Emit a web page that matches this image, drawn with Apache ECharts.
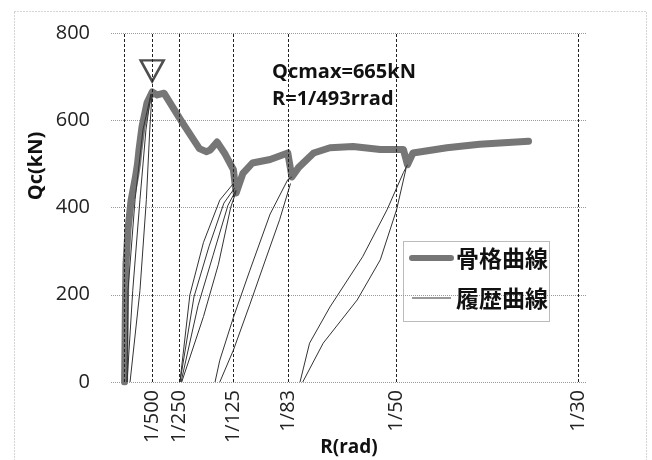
<!DOCTYPE html>
<html>
<head>
<meta charset="utf-8">
<script src="https://cdn.jsdelivr.net/npm/echarts@6/dist/echarts.min.js"></script>
<style>html,body{margin:0;padding:0;background:#fff}#c{width:652px;height:460px}</style>
</head>
<body>
<div id="c"></div>
<script>
// ---- data (R in rad, Qc in kN) ----
const tickValues = [1/500, 1/250, 1/125, 1/83, 1/50, 1/30];
const tickLabels = ['1/500', '1/250', '1/125', '1/83', '1/50', '1/30'];
const yTicks = [0, 200, 400, 600, 800];

const skeleton = [
  [0, 0], [0.00005, 150], [0.0001, 270], [0.00025, 350], [0.00047, 415],
  [0.0008, 470], [0.00095, 500], [0.00105, 530], [0.00128, 585], [0.00165, 640],
  [0.00203, 665], [0.0024, 658], [0.0029, 662], [0.0042, 597], [0.0055, 535],
  [0.006, 528], [0.0063, 532], [0.0068, 550], [0.0074, 522], [0.008, 487],
  [0.0082, 433], [0.0087, 478], [0.0094, 502], [0.0107, 510], [0.012, 525],
  [0.0123, 470], [0.0128, 492], [0.0139, 525], [0.0151, 537], [0.0168, 540],
  [0.0188, 533], [0.0205, 533], [0.0208, 498], [0.0212, 525], [0.0237, 537],
  [0.0261, 545], [0.0297, 552]
];

const hys500a = [[0.00018, 0], [0.00025, 210], [0.00077, 418], [0.00135, 578], [0.00194, 660]];
const hys500b = [[0.0004, 0], [0.00113, 210], [0.0016, 418], [0.00185, 578], [0.00201, 660]];
const hys500c = [[0.00018, 0], [0.0006, 210], [0.00113, 418], [0.00157, 578], [0.00194, 660]];

const hys250a = [[0.00407, 0], [0.0048, 200], [0.0058, 320], [0.007, 417], [0.008, 455]];
const hys250b = [[0.00407, 0], [0.0051, 195], [0.0062, 310], [0.0073, 410], [0.0081, 445]];
const hys250c = [[0.00415, 0], [0.0054, 175], [0.0065, 290], [0.0076, 405], [0.0082, 440]];
const hys250d = [[0.0042, 0], [0.0058, 150], [0.0069, 270], [0.0078, 400], [0.0082, 437]];

const hys125up = [[0.00665, 0], [0.007, 50], [0.008, 148], [0.0092, 255], [0.0107, 385], [0.012, 464], [0.0123, 470]];
const hys125dn = [[0.0122, 455], [0.0114, 372], [0.0103, 275], [0.0092, 177], [0.008, 73], [0.007, 0]];

const hys83up = [[0.0129, 0], [0.0136, 89], [0.0151, 172], [0.0175, 287], [0.0193, 395], [0.0205, 480], [0.0208, 498]];
const hys83dn = [[0.0207, 490], [0.02, 395], [0.0188, 280], [0.0171, 188], [0.0146, 89], [0.0131, 0]];

const peak = [[1/493, 665]];
const annotation = 'Qcmax=665kN\nR=1/493rrad';
const vLines = [0].concat(tickValues);

const hysList = [hys500a, hys500b, hys500c, hys250a, hys250b, hys250c, hys250d, hys125up, hys125dn, hys83up, hys83dn];

// ---- chart ----
const chart = echarts.init(document.getElementById('c'), null, {renderer: 'canvas'});
const FONT = 'Open Sans';
const SKEL = '#767676';
const HYS = '#333';

const series = [];
series.push({
  name: '骨格曲線', type: 'line', data: skeleton, symbol: 'none', z: 2,
  lineStyle: {color: SKEL, width: 7, join: 'round', cap: 'round'},
  itemStyle: {color: SKEL},
  markLine: {
    silent: true, symbol: 'none', animation: false, precision: 8,
    label: {show: false},
    lineStyle: {color: '#222', width: 1, type: [3, 2]},
    data: vLines.map(v => ({xAxis: v}))
  }
});
hysList.forEach(d => series.push({
  name: '履歴曲線', type: 'line', data: d, symbol: 'none', z: 3,
  lineStyle: {color: HYS, width: 1},
  itemStyle: {color: HYS}
}));
series.push({
  name: 'peak', type: 'scatter', data: peak, z: 4,
  symbol: 'triangle', symbolRotate: 180, symbolSize: [23, 21], symbolOffset: [0, -21],
  itemStyle: {color: 'rgba(0,0,0,0)', borderColor: '#222', borderWidth: 2.5}
});

chart.setOption({
  animation: false,
  backgroundColor: '#fff',
  title: {
    text: annotation, left: 272, top: 59, padding: 0,
    textStyle: {fontFamily: FONT, fontSize: 20, fontWeight: 'bold', color: '#111', lineHeight: 27}
  },
  grid: {left: 111, right: 65, top: 33, bottom: 78, containLabel: false, outerBoundsMode: 'none'},
  legend: {
    orient: 'vertical', left: 403, top: 241, padding: [5, 6, 12, 6], itemGap: 16,
    itemWidth: 39, itemHeight: 14,
    textStyle: {fontFamily: 'Noto Sans CJK JP', fontSize: 23, fontWeight: 'bold', color: '#111', lineHeight: 24},
    data: [
      {name: '骨格曲線', lineStyle: {width: 6, color: SKEL},
       itemStyle: {color: 'rgba(0,0,0,0)', borderWidth: 0, opacity: 0}},
      {name: '履歴曲線', lineStyle: {width: 1, color: HYS},
       itemStyle: {color: 'rgba(0,0,0,0)', borderWidth: 0, opacity: 0}}
    ]
  },
  xAxis: {
    type: 'value', min: -0.001, max: 0.034,
    name: 'R(rad)', nameLocation: 'middle', nameGap: 56, nameMoveOverlap: false,
    nameTextStyle: {fontFamily: FONT, fontSize: 19, fontWeight: 'bold', color: '#111'},
    axisLine: {show: false}, axisTick: {show: false}, splitLine: {show: false},
    axisLabel: {
      customValues: tickValues, rotate: 90, margin: 8,
      fontFamily: FONT, fontSize: 20, color: '#222',
      formatter: v => {
        const i = tickValues.findIndex(t => Math.abs(t - v) < 1e-9);
        return i >= 0 ? tickLabels[i] : '';
      }
    }
  },
  yAxis: {
    type: 'value', min: yTicks[0], max: yTicks[yTicks.length - 1], interval: 200,
    axisLine: {show: false}, axisTick: {show: false},
    axisLabel: {margin: 21, fontFamily: FONT, fontSize: 20, color: '#222'},
    splitLine: {show: true, lineStyle: {color: '#999', width: 1, type: [1, 1]}}
  },
  graphic: [
    {type: 'rect', silent: true, shape: {x: 14.5, y: 11.5, width: 632, height: 470},
     style: {fill: 'none', stroke: '#aaa', lineWidth: 1, lineDash: [1, 2]}},
    {type: 'rect', silent: true, shape: {x: 403.5, y: 241.5, width: 146, height: 80},
     style: {fill: 'none', stroke: '#777', lineWidth: 1, lineDash: [1, 1]}},
    {type: 'text', silent: true, x: 36, y: 166, rotation: Math.PI / 2,
     style: {text: 'Qc(kN)', fontFamily: FONT, fontSize: 20, fontWeight: 'bold', fill: '#111',
             align: 'center', verticalAlign: 'middle'}}
  ],
  series: series
});
</script>
</body>
</html>
